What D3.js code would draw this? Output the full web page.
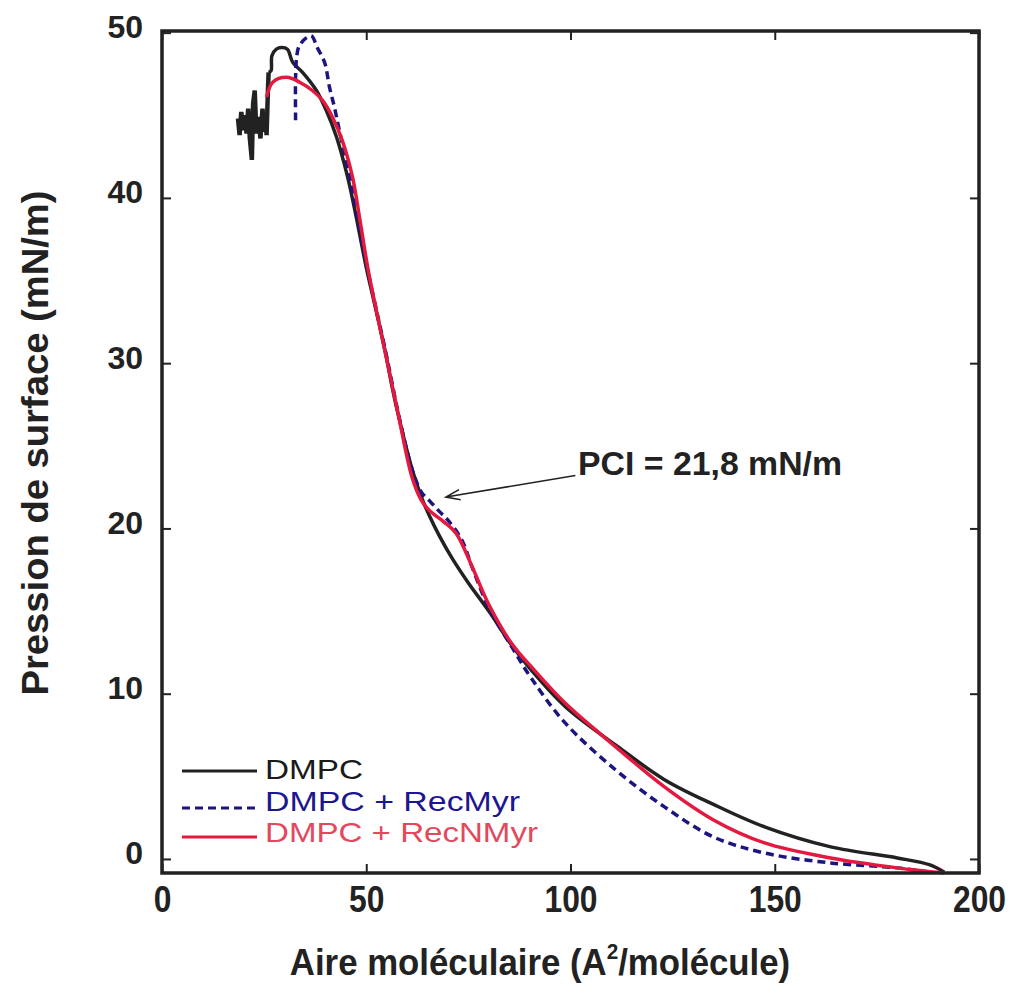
<!DOCTYPE html>
<html>
<head>
<meta charset="utf-8">
<script src="https://cdn.jsdelivr.net/npm/d3@7"></script>
<style>
  body { margin: 0; background: #fff; }
  text { font-family: Arial, "Liberation Sans", sans-serif; }
</style>
</head>
<body>
<div id="chart"></div>
<script>
// Isotherm data: [area (A^2/molecule), pressure (mN/m)]
const dmpc = [
  [18.6, 44.8], [19.0, 43.8], [19.4, 45.2], [19.9, 44.1], [20.3, 45.0], [20.7, 43.9], [21.1, 45.4],
  [21.5, 43.6], [22.0, 42.3], [22.3, 45.7], [22.7, 46.5], [23.1, 43.9], [23.6, 44.9], [24.1, 43.6],
  [24.6, 45.4], [25.0, 44.0], [25.3, 45.0], [25.6, 43.8], [25.9, 46.3], [26.1, 47.6], [26.7, 47.7],
  [26.9, 48.6], [28.0, 49.0], [29.3, 49.1], [30.7, 49.0], [32.0, 48.2], [34.4, 47.6], [37.8, 46.5],
  [40.2, 45.3], [42.7, 43.7], [45.4, 41.3], [47.5, 38.9], [50.0, 35.8], [52.4, 33.2], [54.9, 30.4],
  [56.3, 28.6], [58.0, 26.7], [61.2, 23.6], [63.5, 21.9], [65.4, 20.8], [68.0, 19.5], [71.0, 18.2],
  [75.0, 16.7], [80.0, 15.0], [85.7, 12.9], [90.5, 11.4], [98.8, 9.2], [111, 6.9], [123, 4.8],
  [135, 3.3], [147.5, 1.94], [163.7, 0.73], [180, 0.06], [188, -0.36], [191.5, -0.8]
];
const recMyr = [
  [32.7, 44.7], [32.7, 47.3], [33.0, 48.6], [33.6, 49.2], [35.4, 49.7], [36.6, 49.8], [38.0, 49.1],
  [39.8, 48.2], [41.0, 46.7], [42.2, 45.5], [43.4, 44.1], [45.9, 41.3], [47.8, 38.9], [50.2, 35.8],
  [52.5, 33.2], [55.0, 30.4], [58.0, 26.8], [61.2, 23.6], [63.5, 22.2], [65.4, 21.7], [68.0, 21.0],
  [70.0, 20.5], [73.4, 19.3], [76.0, 17.6], [80.0, 15.2], [85.7, 12.8], [90.5, 10.9], [98.8, 8.2],
  [111, 5.4], [123, 3.15], [135, 1.33], [147.5, 0.36], [163.7, -0.24], [180, -0.54], [188, -0.8]
];
const recNMyr = [
  [25.6, 46.1], [27.1, 47.0], [30.5, 47.3], [33.7, 47.0], [36.8, 46.5], [39.3, 45.9], [41.7, 44.9],
  [44.1, 43.5], [46.6, 41.3], [48.5, 38.6], [50.5, 35.6], [52.8, 32.8], [55.2, 30.0], [58.0, 26.7],
  [61.2, 23.1], [63.5, 21.7], [65.4, 21.1], [69.0, 20.4], [72.0, 19.7], [75.9, 17.7], [80.0, 15.4],
  [85.7, 13.0], [90.5, 11.6], [98.8, 9.4], [111, 6.8], [123, 4.36], [135, 2.36], [147.5, 0.97],
  [163.7, 0.06], [180, -0.54], [191.5, -0.85]
];

const xTicks = [0, 50, 100, 150, 200];
const yTicks = [0, 10, 20, 30, 40, 50];
const seriesNames = ["DMPC", "DMPC + RecMyr", "DMPC + RecNMyr"];
const pciLabel = "PCI = 21,8 mN/m";
const pciArrow = [[101.2, 23.2], [69.5, 21.9]]; // tail, tip

// Dimensions For SVG Element
let w = 1015, h = 993;
let svg = d3.select("#chart").append("svg").attr("width", w).attr("height", h);

// Scales
let x = d3.scaleLinear().domain([0, 200]).range([162, 979]);
let y = d3.scaleLinear().domain([-0.85, 50.1]).range([873, 31]);

// Curves
let line = d3.line().x(d => x(d[0])).y(d => y(d[1])).curve(d3.curveCatmullRom.alpha(0.5));
let jagged = d3.line().x(d => x(d[0])).y(d => y(d[1]));
let series = [
  { data: dmpc, color: "#222222", dash: null, text: "#1a1a1a" },
  { data: recMyr, color: "#1c1580", dash: "8,5", text: "#1d168f" },
  { data: recNMyr, color: "#e3193f", dash: null, text: "#e2495d" }
];

// Collapse region of DMPC drawn as a jagged blob
svg.append("path").attr("d", jagged(dmpc.slice(0, 20))).attr("fill", "none")
  .attr("stroke", "#222").attr("stroke-width", 4.5).attr("stroke-linejoin", "miter");
series.forEach((s, i) => {
  let pts = i === 0 ? s.data.slice(19) : s.data;
  svg.append("path").attr("d", line(pts)).attr("fill", "none")
    .attr("stroke", s.color).attr("stroke-width", 3.5)
    .attr("stroke-dasharray", s.dash).attr("stroke-linejoin", "round");
});

// Axes with inward ticks
let axisStyle = g => {
  g.select(".domain").remove();
  g.selectAll(".tick line").attr("stroke", "#222").attr("stroke-width", 2);
};
svg.append("g").attr("transform", `translate(${x(0)},0)`)
  .call(d3.axisLeft(y).tickValues(yTicks).tickSize(-9).tickPadding(19))
  .call(axisStyle)
  .call(g => g.selectAll("text").attr("dy", "5px").attr("fill", "#222")
    .style("font-size", "32px").style("font-weight", "bold").style("font-family", "Arial"));
svg.append("g").attr("transform", `translate(${x(200)},0)`)
  .call(d3.axisRight(y).tickValues(yTicks).tickSize(-9).tickFormat(""))
  .call(axisStyle);
svg.append("g").attr("transform", `translate(0,${y.range()[0]})`)
  .call(d3.axisBottom(x).tickValues(xTicks).tickSize(-9))
  .call(axisStyle)
  .call(g => g.selectAll("text").attr("y", 39).attr("dy", 0).attr("fill", "#222")
    .attr("transform", "scale(0.86,1)")
    .style("font-size", "37px").style("font-weight", "bold").style("font-family", "Arial"));
svg.append("g").attr("transform", `translate(0,${y.range()[1]})`)
  .call(d3.axisTop(x).tickValues(xTicks).tickSize(-9).tickFormat(""))
  .call(axisStyle);

// Frame
svg.append("rect").attr("x", x(0)).attr("y", y.range()[1])
  .attr("width", x(200) - x(0)).attr("height", y.range()[0] - y.range()[1])
  .attr("fill", "none").attr("stroke", "#222").attr("stroke-width", 3.5);

// Axis titles
let xt = svg.append("text").attr("transform", "translate(540,975) scale(0.94,1)").attr("text-anchor", "middle")
  .style("font-size", "37px").style("font-weight", "bold").attr("fill", "#222");
xt.append("tspan").text("Aire moléculaire (A");
xt.append("tspan").attr("dy", -16).style("font-size", "22px").text("2");
xt.append("tspan").attr("dy", 16).text("/molécule)");

svg.append("text").attr("transform", "translate(48,443) rotate(-90)").attr("text-anchor", "middle")
  .attr("textLength", 505).attr("lengthAdjust", "spacingAndGlyphs")
  .style("font-size", "37px").style("font-weight", "bold").attr("fill", "#222")
  .text("Pression de surface (mN/m)");

// Legend
let legY = [771, 808, 837], legBase = [779, 811, 842], legLen = [98, 255, 273];
series.forEach((s, i) => {
  svg.append("line").attr("x1", 182).attr("x2", 257).attr("y1", legY[i]).attr("y2", legY[i])
    .attr("stroke", s.color).attr("stroke-width", 3).attr("stroke-dasharray", s.dash);
  svg.append("text").attr("x", 265).attr("y", legBase[i]).attr("fill", s.text)
    .attr("textLength", legLen[i]).attr("lengthAdjust", "spacingAndGlyphs")
    .style("font-size", "28px").text(seriesNames[i]);
});

// PCI annotation with arrow
let tail = [x(pciArrow[0][0]), y(pciArrow[0][1])], tip = [x(pciArrow[1][0]), y(pciArrow[1][1])];
let ang = Math.atan2(tail[1] - tip[1], tail[0] - tip[0]);
let head = a => [tip[0] + 15 * Math.cos(ang + a), tip[1] + 15 * Math.sin(ang + a)];
svg.append("path").attr("d", `M${tail}L${tip}M${head(0.35)}L${tip}L${head(-0.35)}`)
  .attr("fill", "none").attr("stroke", "#222").attr("stroke-width", 1.6);
svg.append("text").attr("x", 578).attr("y", 475).attr("textLength", 264).attr("lengthAdjust", "spacingAndGlyphs")
  .style("font-size", "34px").style("font-weight", "bold").attr("fill", "#222").text(pciLabel);
</script>
</body>
</html>
